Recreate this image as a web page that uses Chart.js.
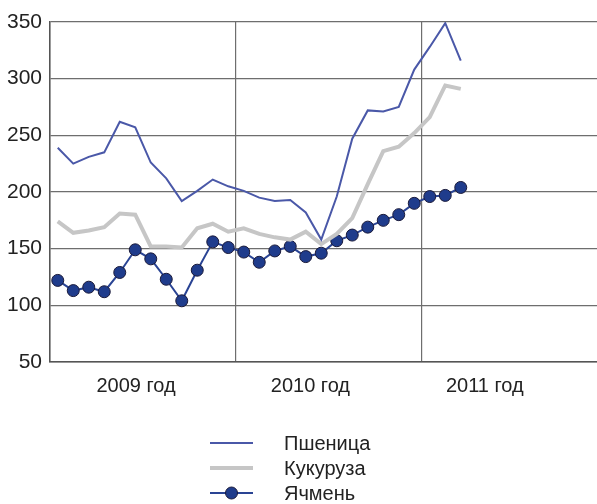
<!DOCTYPE html>
<html>
<head>
<meta charset="utf-8">
<script src="https://cdn.jsdelivr.net/npm/chart.js@4/dist/chart.umd.min.js"></script>
<style>
  html, body { margin: 0; padding: 0; background: #fff; overflow: hidden; }
  #wrap { position: relative; width: 620px; height: 504px; }
</style>
</head>
<body>
<div id="wrap"><canvas id="grainChart" width="620" height="504"></canvas></div>
<script>
    // monthly prices, Jan 2009 - Mar 2011
    var wheat = [239, 225, 231, 235, 262, 257, 226, 212, 192, 201, 211, 205,
                 201, 195, 192, 193, 182, 158, 196, 247, 272, 271, 275, 308,
                 328, 349, 316];
    var corn = [174, 164, 166, 169, 181, 180, 152, 152, 151, 168, 172, 165,
                168, 163, 160, 158, 165, 154, 163, 177, 207, 236, 240, 252,
                266, 294, 291];
    var barley = [122, 113, 116, 112, 129, 149, 141, 123, 104, 131, 156, 151,
                  147, 138, 148, 152, 143, 146, 157, 162, 169, 175, 180, 190,
                  196, 197, 204];
    var seriesNames = ["Пшеница", "Кукуруза", "Ячмень"];
    var yearLabels = ["2009 год", "2010 год", "2011 год"];
    var yTicks = [50, 100, 150, 200, 250, 300, 350];

    var FONT = "'Liberation Sans Narrow', 'Liberation Sans', 'DejaVu Sans', sans-serif";

    function toPoints(arr) {
        return arr.map(function (v, i) { return { x: i + 0.5, y: v }; });
    }

    // legend drawn as a column below the chart
    var columnLegend = {
        id: "columnLegend",
        afterDraw: function (chart) {
            var ctx = chart.ctx;
            ctx.save();
            chart.data.datasets.forEach(function (ds, i) {
                var y = 443 + i * 25;
                ctx.strokeStyle = ds.borderColor;
                ctx.lineWidth = ds.borderWidth;
                ctx.beginPath();
                ctx.moveTo(210, y);
                ctx.lineTo(253, y);
                ctx.stroke();
                if (ds.pointRadius > 0) {
                    ctx.fillStyle = ds.pointBackgroundColor;
                    ctx.strokeStyle = ds.pointBorderColor;
                    ctx.lineWidth = 1;
                    ctx.beginPath();
                    ctx.arc(231.5, y, 6, 0, Math.PI * 2);
                    ctx.fill();
                    ctx.stroke();
                }
                ctx.fillStyle = "#222";
                ctx.font = "20px " + FONT;
                ctx.textBaseline = "middle";
                ctx.fillText(ds.label, 284, y + 1);
            });
            ctx.restore();
        }
    };

    var config = {
        type: "line",
        data: {
            datasets: [
                {
                    label: seriesNames[0],
                    data: toPoints(wheat),
                    borderColor: "#4a58a8",
                    borderWidth: 2,
                    pointRadius: 0,
                    tension: 0
                },
                {
                    label: seriesNames[1],
                    data: toPoints(corn),
                    borderColor: "#c6c6c6",
                    borderWidth: 4,
                    pointRadius: 0,
                    tension: 0
                },
                {
                    label: seriesNames[2],
                    data: toPoints(barley),
                    borderColor: "#2a4494",
                    borderWidth: 2,
                    pointRadius: 6,
                    pointBackgroundColor: "#1f3c8c",
                    pointBorderColor: "#1a1a3a",
                    pointBorderWidth: 1,
                    tension: 0
                }
            ]
        },
        options: {
            responsive: false,
            animation: false,
            layout: { padding: { top: 22, right: 12, bottom: 94, left: 0 } },
            plugins: {
                legend: { display: false },
                tooltip: { enabled: false }
            },
            scales: {
                x: {
                    type: "linear",
                    min: 0,
                    max: 36,
                    afterBuildTicks: function (axis) {
                        axis.ticks = [0, 12, 24, 36].map(function (v) { return { value: v }; });
                    },
                    ticks: { display: false },
                    grid: { color: "#6e6e6e", lineWidth: 1.2, drawTicks: false },
                    border: { display: true, color: "#555", width: 1.5 }
                },
                x2: {
                    type: "linear",
                    position: "bottom",
                    min: 0,
                    max: 36,
                    afterBuildTicks: function (axis) {
                        axis.ticks = [5.55, 16.8, 28.05].map(function (v) { return { value: v }; });
                    },
                    ticks: {
                        autoSkip: false,
                        maxRotation: 0,
                        padding: 12,
                        color: "#222",
                        font: { family: FONT, size: 20 },
                        callback: function (v, i) { return yearLabels[i]; }
                    },
                    grid: { display: false, drawTicks: false },
                    border: { display: false }
                },
                y: {
                    min: 50,
                    max: 350,
                    afterBuildTicks: function (axis) {
                        axis.ticks = yTicks.map(function (v) { return { value: v }; });
                    },
                    afterFit: function (axis) { axis.width = 50; },
                    ticks: {
                        padding: 8,
                        color: "#222",
                        font: { family: FONT, size: 21 }
                    },
                    grid: { color: "#6e6e6e", lineWidth: 1.2, drawTicks: false },
                    border: { display: true, color: "#555", width: 1.5 }
                }
            }
        },
        plugins: [columnLegend]
    };

    var grainChart = new Chart(document.getElementById("grainChart"), config);
</script>
</body>
</html>
